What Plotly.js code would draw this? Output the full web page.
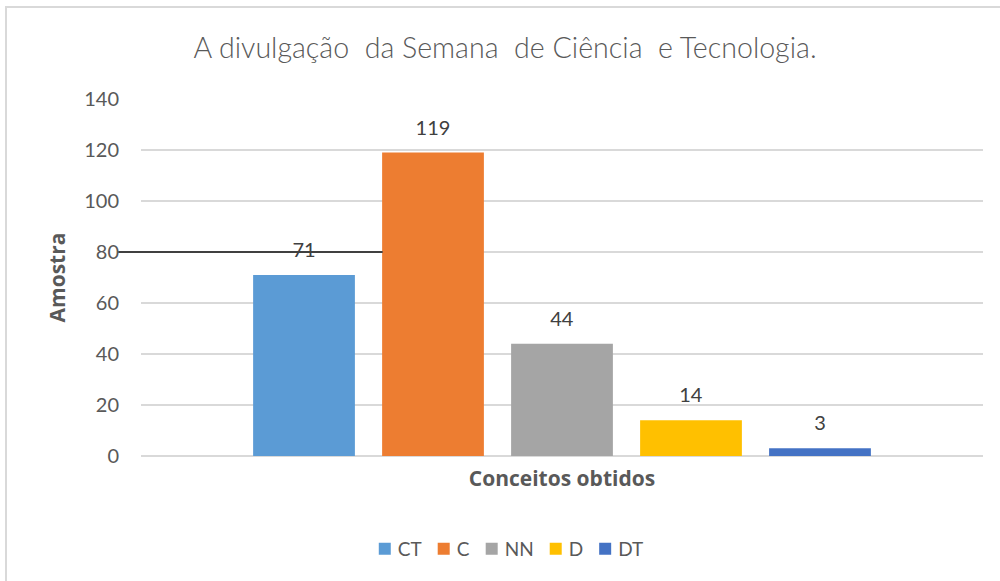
<!DOCTYPE html>
<html>
<head>
<meta charset="utf-8">
<script src="https://cdn.plot.ly/plotly-3.0.1.min.js"></script>
<style>
  html, body { margin: 0; padding: 0; background: #ffffff; }
  #wrap { position: absolute; left: 0; top: 0; width: 1000px; height: 581px; overflow: hidden; }
  #frame { position: absolute; left: 5px; top: 6px; width: 1010px; height: 600px; border: 2px solid #d9d9d9; box-sizing: border-box; }
  #chart { position: absolute; left: 0; top: 0; width: 1000px; height: 581px; }
</style>
</head>
<body>
<div id="wrap">
  <div id="frame"></div>
  <div id="chart"></div>
</div>
<script>
const seriesNames = ["CT", "C", "NN", "D", "DT"];
const seriesValues = [71, 119, 44, 14, 3];
const seriesColors = ["#5b9bd5", "#ed7d31", "#a5a5a5", "#ffc000", "#4472c4"];
const category = [""];
const yTicks = [0, 20, 40, 60, 80, 100, 120, 140];

const traces = seriesNames.map((name, i) => ({
  type: "bar",
  name: name,
  x: category,
  y: [seriesValues[i]],
  marker: { color: seriesColors[i] },
  text: [String(seriesValues[i])],
  textposition: "outside",
  cliponaxis: false,
  textfont: { family: "Lato, 'Open Sans', sans-serif", size: 20, color: "#404040" },
  hoverinfo: "skip"
}));

const layout = {
  width: 1000,
  height: 581,
  paper_bgcolor: "rgba(0,0,0,0)",
  plot_bgcolor: "rgba(0,0,0,0)",
  margin: { l: 141, r: 17, t: 99, b: 125 },
  barmode: "group",
  bargap: 0.234,
  bargroupgap: 0.211,
  showlegend: true,
  title: {
    text: "A divulgação  da Semana  de Ciência  e Tecnologia.",
    font: { family: "Lato, 'Open Sans', sans-serif", size: 28.6, color: "#595959", weight: 300 },
    x: 0.505, xanchor: "center", y: 0.918, yanchor: "middle"
  },
  xaxis: {
    type: "category",
    range: [-0.5, 0.5],
    showticklabels: false,
    showgrid: false,
    zeroline: false,
    showline: false,
    ticks: "",
    title: {
      text: "Conceitos obtidos",
      font: { family: "'Open Sans', sans-serif", size: 21, color: "#595959", weight: "bold" },
      standoff: 15
    }
  },
  yaxis: {
    range: [0, 140],
    tickvals: yTicks,
    ticktext: yTicks.map(String),
    tickfont: { family: "Lato, 'Open Sans', sans-serif", size: 20, color: "#595959" },
    showgrid: true,
    gridcolor: "#d9d9d9",
    gridwidth: 1.5,
    zeroline: true,
    zerolinecolor: "#d9d9d9",
    zerolinewidth: 2,
    showline: false,
    ticks: "",
    ticklabelstandoff: 21,
    title: {
      text: "Amostra",
      font: { family: "'Open Sans', sans-serif", size: 21, color: "#595959", weight: "bold" },
      standoff: 12
    }
  },
  legend: {
    orientation: "h",
    x: 0.505, xanchor: "center",
    y: -0.26, yanchor: "middle",
    font: { family: "Lato, 'Open Sans', sans-serif", size: 19, color: "#595959" },
    itemwidth: 30,
    traceorder: "normal"
  },
  shapes: [{
    type: "line",
    xref: "paper", yref: "y",
    x0: -0.027, x1: 0.287, y0: 80, y1: 80,
    line: { color: "#404040", width: 2 }
  }]
};

function parseTranslate(el) {
  const m = (el.getAttribute("transform") || "").match(/translate\(\s*([-\d.e]+)[\s,]+([-\d.e]+)\s*\)/);
  return m ? [parseFloat(m[1]), parseFloat(m[2])] : [0, 0];
}

Plotly.newPlot("chart", traces, layout, { displayModeBar: false, staticPlot: true }).then(() => {
  // lift the value labels a little further above the bars, as in the original
  document.querySelectorAll("#chart .bartext").forEach(t => {
    const tr = t.getAttribute("transform") || "";
    t.setAttribute("transform", "translate(0,-11) " + tr);
  });

  // compact legend: swatch close to its label, entries packed like the original
  const legend = document.querySelector("#chart .legend");
  if (!legend) return;
  const items = Array.from(legend.querySelectorAll("g.traces"));
  const symGap = 7, itemGap = 16, symLeft = 14, symW = 12;
  const widths = items.map(g => {
    const txt = g.querySelector("text.legendtext");
    txt.setAttribute("x", symLeft + symW + symGap);
    return symW + symGap + txt.getBBox().width;
  });
  const total = widths.reduce((a, b) => a + b, 0) + itemGap * (items.length - 1);
  const [, ly] = parseTranslate(legend);
  const centerAbs = 511;
  const startAbs = centerAbs - total / 2;
  legend.setAttribute("transform", "translate(" + (startAbs - symLeft) + "," + ly + ")");
  let cursor = 0;
  items.forEach((g, i) => {
    const [, y] = parseTranslate(g);
    g.setAttribute("transform", "translate(" + cursor + "," + y + ")");
    cursor += widths[i] + itemGap;
  });
});
</script>
</body>
</html>
